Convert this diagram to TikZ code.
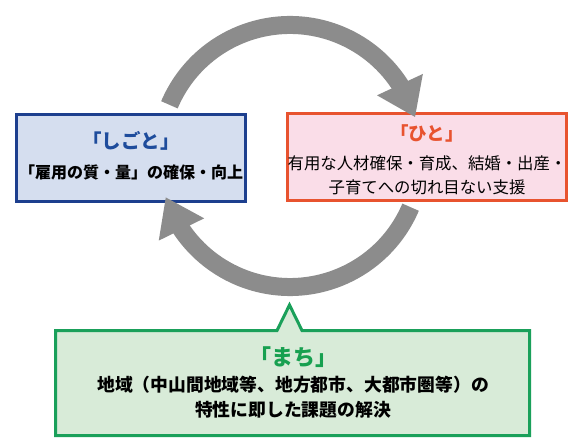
\documentclass[tikz,border=0pt]{standalone}
\usepackage{fontspec}
\setmainfont{Noto Sans CJK JP}
\usetikzlibrary{arrows.meta,bending}
\definecolor{arrowgray}{HTML}{8C8C8C}
\definecolor{blueline}{HTML}{1D3F8E}
\definecolor{bluefill}{HTML}{D5DEEF}
\definecolor{bluetext}{HTML}{1E4C9C}
\definecolor{pinkline}{HTML}{E8532F}
\definecolor{pinkfill}{HTML}{FADDE8}
\definecolor{greenline}{HTML}{1AA05A}
\definecolor{greenfill}{HTML}{D8EBD8}
\definecolor{greentext}{HTML}{17A050}
\begin{document}
\begin{tikzpicture}[x=1pt,y=1pt,
  cyc/.style={draw=arrowgray, line width=18pt, -{Triangle[width=48pt,length=36pt]}},
  panel/.style={rectangle, line width=3pt, inner sep=0pt},
  ttl/.style={font=\bfseries\fontsize{#1}{#1}\selectfont, inner sep=0pt},
  body/.style={align=center, inner sep=0pt, font=\fontsize{#1}{24}\selectfont}]
\useasboundingbox (0,0) rectangle (572,439);
\fill[white] (0,0) rectangle (572,439);
\coordinate (c) at (290,283);
% lower arrow (tail under pink panel)
\draw[cyc] (c) ++(-23:131) arc[start angle=-23, end angle=-161.7, radius=131];
% pink panel
\node[panel, draw=pinkline, fill=pinkfill, minimum width=279pt, minimum height=87pt] (hitobox) at (427,282) {};
% upper arrow (tip over pink panel)
\draw[cyc] (c) ++(157:131) arc[start angle=157, end angle=17.2, radius=131];
% blue panel
\node[panel, draw=blueline, fill=bluefill, minimum width=229pt, minimum height=87pt] (shigotobox) at (131,281) {};
% redraw lower arrow tip over blue panel
\begin{scope}
  \clip (shigotobox.south west) rectangle (shigotobox.north east);
  \draw[cyc] (c) ++(-23:131) arc[start angle=-23, end angle=-161.7, radius=131];
\end{scope}
% green panel with spike
\draw[line width=3pt, draw=greenline, fill=greenfill, line join=miter]
  (55.5,3.5) -- (55.5,108.5) -- (277,108.5) -- (289.5,134) -- (302,108.5)
  -- (529.5,108.5) -- (529.5,3.5) -- cycle;
\coordinate (machibox) at (292.5,56);
% texts
\node[ttl=19.5, text=bluetext] (shigotottl) at (131,298) {「しごと」};
\node[inner sep=0pt, font=\bfseries\fontsize{16}{20}\selectfont] (shigotobody) at (131,267) {「雇用の質・量」の確保・向上};
\node[ttl=18.5, text=pinkline] (hitottl) at (427,306) {「ひと」};
\node[body=16.4] (hitobody) at (427,264) {有用な人材確保・育成、結婚・出産・\\子育てへの切れ目ない支援};
\node[ttl=22, text=greentext] (machittl) at (293,82) {「まち」};
\node[body=17.5, font=\bfseries\fontsize{17.8}{25}\selectfont] (machibody) at (293,41.5) {地域（中山間地域等、地方都市、大都市圏等）の\\特性に即した課題の解決};
\end{tikzpicture}
\end{document}
